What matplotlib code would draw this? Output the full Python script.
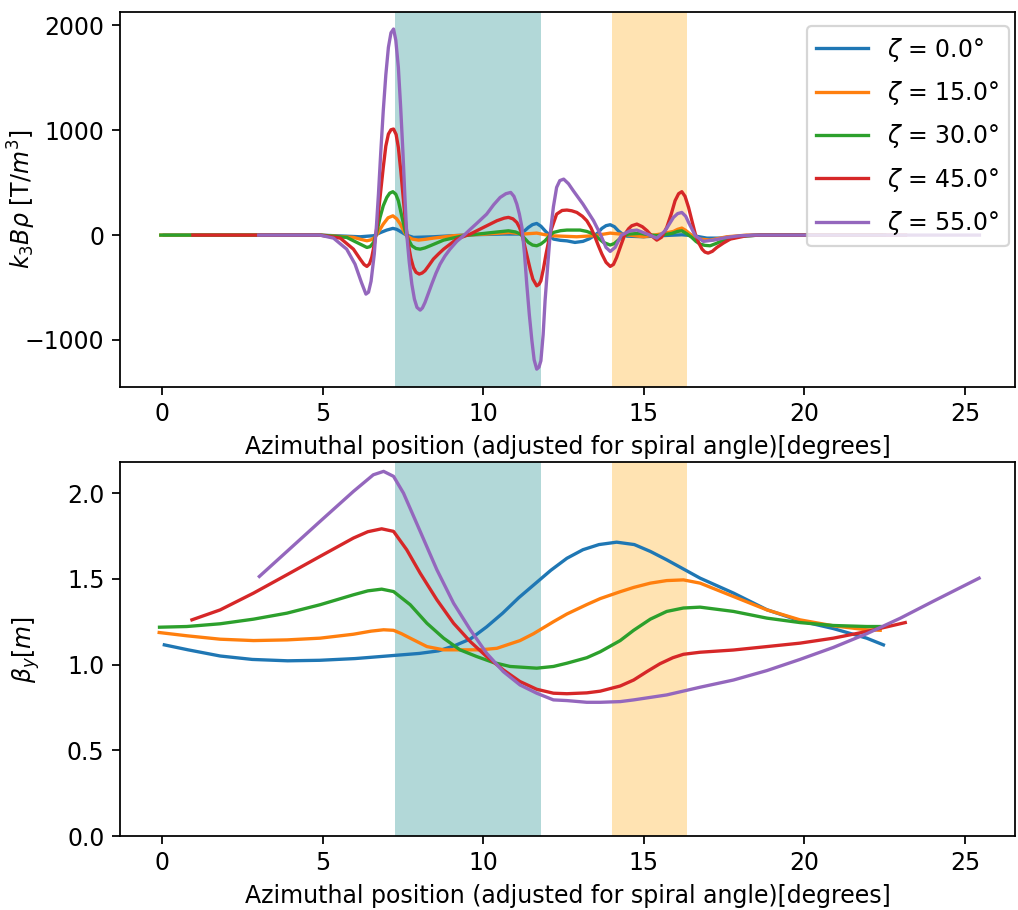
import numpy as np
import matplotlib.pyplot as plt
from matplotlib.ticker import MultipleLocator

plt.rcParams['font.size'] = 10.7

zetas = [0.0, 15.0, 30.0, 45.0, 55.0]
colors = ['tab:blue', 'tab:orange', 'tab:green', 'tab:red', 'tab:purple']

# k3*B*rho along the azimuth [T/m^3], one x/y pair per spiral angle
k3_x_0 = [0.06, 4.9, 6.16, 6.58, 6.8, 6.99, 7.18, 7.3, 7.41, 7.6, 7.82, 8.44, 9.59, 10.62, 11.15, 11.28,
          11.4, 11.53, 11.66, 11.79, 11.92, 12.05, 12.18, 12.4, 12.6, 12.85, 13.1, 13.3, 13.45, 13.56, 13.69,
          13.82, 13.95, 14.08, 14.2, 14.33, 14.47, 14.99, 15.51, 16.18, 16.54, 16.96, 17.38, 18.0, 18.62, 22.5]
k3_y_0 = [0, 0, -16, -6, 25, 48, 64, 55, 35, 0, -22, -16, 3, 10, 10, 40,
          73, 100, 111, 85, 41, 0, -38, -50, -55, -70, -60, -35, -5, 20, 64,
          90, 99, 80, 41, 10, -10, -16, -6, 3, -6, -29, -29, -10, 0, 0]

k3_x_1 = [-0.05, 4.9, 5.95, 6.2, 6.37, 6.5, 6.62, 6.75, 6.88, 7.03, 7.18, 7.3, 7.41, 7.51, 7.61, 7.78,
          7.98, 8.2, 8.44, 9.07, 10.1, 10.82, 11.25, 11.66, 12.08, 12.91, 13.43, 13.95, 14.47, 14.99,
          15.51, 15.92, 16.05, 16.18, 16.3, 16.44, 16.6, 16.75, 17.06, 17.58, 18.2, 22.4]
k3_y_1 = [0, 0, -22, -42, -54, -45, -22, 40, 105, 165, 184, 155, 105, 45, -6, -38,
          -48, -40, -29, -6, 10, 25, 10, 19, -6, -16, -6, 19, 3, -16,
          10, 35, 55, 67, 45, 10, -20, -38, -48, -16, 0, 0]

k3_x_2 = [-0.05, 4.9, 5.74, 6.16, 6.37, 6.47, 6.58, 6.68, 6.78, 6.88, 6.99, 7.08, 7.18, 7.27, 7.35, 7.45,
          7.56, 7.66, 7.77, 7.9, 8.03, 8.18, 8.34, 8.55, 8.76, 9.38, 10.1, 10.78, 11.0, 11.15, 11.28,
          11.4, 11.53, 11.66, 11.79, 11.92, 12.05, 12.18, 12.4, 12.6, 13.01, 13.22, 13.43, 13.6, 13.74,
          13.95, 14.08, 14.2, 14.35, 14.52, 14.88, 15.15, 15.4, 15.65, 15.87, 16.05, 16.18, 16.32, 16.49,
          16.62, 16.75, 16.9, 17.06, 17.25, 17.48, 18.0, 18.62, 22.4]
k3_y_2 = [0, 0, -22, -86, -118, -110, -70, 30, 169, 280, 359, 400, 414, 390, 328, 190,
          41, -40, -102, -128, -134, -122, -102, -75, -48, -6, 19, 41, 30, 10, -30,
          -70, -95, -102, -85, -54, -10, 25, 42, 48, 48, 35, 10, -35, -70,
          -95, -80, -48, -10, 10, 16, 5, -6, 5, 16, 35, 41, 15, -22,
          -60, -86, -98, -102, -80, -48, -10, 0, 0]

k3_x_3 = [0.95, 4.9, 5.54, 5.95, 6.16, 6.28, 6.37, 6.45, 6.52, 6.6, 6.68, 6.78, 6.88, 6.96, 7.04, 7.12,
          7.2, 7.28, 7.35, 7.43, 7.51, 7.58, 7.66, 7.74, 7.82, 7.9, 8.0, 8.09, 8.18, 8.3, 8.44, 8.6,
          8.76, 9.17, 9.59, 10.0, 10.42, 10.65, 10.78, 10.92, 11.04, 11.12, 11.2, 11.28, 11.37, 11.46,
          11.54, 11.66, 11.73, 11.79, 11.87, 11.95, 12.03, 12.1, 12.2, 12.28, 12.45, 12.6, 12.75, 12.91,
          13.08, 13.22, 13.35, 13.48, 13.58, 13.69, 13.82, 13.95, 14.05, 14.15, 14.28, 14.41, 14.52,
          14.62, 14.78, 14.95, 15.1, 15.25, 15.4, 15.55, 15.71, 15.85, 15.97, 16.08, 16.18, 16.28,
          16.39, 16.5, 16.6, 16.7, 16.81, 16.9, 17.0, 17.13, 17.27, 17.48, 17.69, 18.2, 18.62, 23.15]
k3_y_3 = [0, 0, -29, -134, -229, -280, -299, -275, -213, -90, 73, 360, 646, 850, 964, 1005,
          1012, 960, 837, 600, 328, 100, -86, -220, -309, -355, -372, -362, -340, -290, -229, -180,
          -134, -38, 10, 73, 137, 162, 169, 155, 121, 75, 10, -95, -213, -330,
          -420, -484, -470, -436, -320, -181, -60, 41, 130, 200, 235, 239, 232, 216,
          180, 137, 70, -22, -100, -181, -260, -299, -280, -213, -100, 10, 60,
          89, 105, 80, 41, -10, -48, -20, 73, 200, 328, 395, 414, 370,
          264, 130, 10, -70, -134, -162, -172, -155, -118, -75, -38, -6, 0, 0]

k3_x_4 = [3.0, 4.9, 5.33, 5.74, 6.0, 6.2, 6.34, 6.42, 6.5, 6.6, 6.67, 6.73, 6.8, 6.88, 6.96, 7.04,
          7.12, 7.2, 7.27, 7.35, 7.42, 7.49, 7.55, 7.61, 7.69, 7.77, 7.85, 7.93, 8.03, 8.1, 8.18,
          8.28, 8.39, 8.52, 8.65, 8.8, 8.96, 9.17, 9.38, 9.59, 9.79, 10.1, 10.32, 10.52, 10.7, 10.85,
          10.95, 11.04, 11.12, 11.2, 11.28, 11.35, 11.43, 11.51, 11.58, 11.66, 11.73, 11.79, 11.86,
          11.92, 12.0, 12.08, 12.18, 12.28, 12.38, 12.5, 12.65, 12.8, 13.1, 13.43, 13.64, 13.82,
          13.95, 14.1, 14.3, 14.57, 14.78, 15.1, 15.4, 15.66, 15.92, 16.05, 16.18, 16.3, 16.39,
          16.6, 16.85, 17.17, 17.58, 18.0, 18.4, 25.45]
k3_y_4 = [0, 0, -29, -134, -277, -452, -563, -545, -440, -181, 100, 391, 780, 1187, 1530, 1791,
          1930, 1966, 1860, 1600, 1230, 805, 390, 10, -260, -468, -610, -690, -716, -695, -643,
          -560, -468, -365, -277, -200, -134, -60, -6, 55, 111, 200, 290, 359, 395, 407,
          370, 296, 200, 73, -180, -468, -760, -1008, -1190, -1279, -1260, -1199, -950,
          -627, -300, 10, 270, 455, 520, 534, 490, 423, 296, 137, 10, -118,
          -156, -118, 0, 41, 48, 10, -29, 41, 169, 205, 216, 180, 121,
          -6, -60, -48, -22, -6, 0, 0]

# vertical beta function [m]
beta_x_0 = [0.06, 0.8, 1.8, 2.8, 3.9, 4.9, 6.0, 7.0, 8.0, 8.6, 9.1, 9.6, 10.1, 10.6, 11.1, 11.6, 12.1,
            12.6, 13.1, 13.6, 14.15, 14.7, 15.2, 15.71, 16.75, 17.79, 18.83, 19.86, 20.9, 21.94, 22.46]
beta_y_0 = [1.115, 1.086, 1.05, 1.03, 1.022, 1.025, 1.035, 1.05, 1.065, 1.08, 1.11, 1.15, 1.22, 1.30,
            1.39, 1.47, 1.55, 1.62, 1.67, 1.70, 1.714, 1.70, 1.66, 1.611, 1.504, 1.417, 1.32, 1.255,
            1.21, 1.154, 1.115]

beta_x_1 = [-0.1, 0.76, 1.8, 2.84, 3.88, 4.91, 5.95, 6.5, 6.89, 7.2, 7.45, 7.72, 8.24, 8.76, 9.27, 9.9,
            10.42, 11.14, 11.56, 12.18, 12.6, 13.22, 13.64, 14.26, 14.68, 15.2, 15.71, 16.23, 16.75,
            17.79, 18.83, 19.86, 20.9, 21.94, 22.36]
beta_y_1 = [1.187, 1.168, 1.148, 1.14, 1.144, 1.154, 1.177, 1.195, 1.203, 1.2, 1.18, 1.154, 1.105,
            1.086, 1.086, 1.086, 1.095, 1.14, 1.18, 1.25, 1.295, 1.35, 1.385, 1.425, 1.45, 1.475,
            1.49, 1.494, 1.475, 1.397, 1.319, 1.261, 1.226, 1.203, 1.2]

beta_x_2 = [-0.09, 0.76, 1.8, 2.84, 3.88, 4.91, 5.95, 6.4, 6.83, 7.2, 7.72, 8.24, 8.76, 9.27, 9.79,
            10.31, 10.83, 11.66, 12.18, 12.6, 13.22, 13.64, 14.26, 14.68, 15.2, 15.71, 16.23, 16.75,
            17.79, 18.83, 19.86, 20.9, 21.94, 22.36]
beta_y_2 = [1.218, 1.222, 1.238, 1.265, 1.3, 1.349, 1.407, 1.43, 1.44, 1.426, 1.349, 1.241, 1.154,
            1.086, 1.047, 1.012, 0.989, 0.979, 0.989, 1.008, 1.04, 1.075, 1.14, 1.2, 1.265, 1.31,
            1.33, 1.335, 1.31, 1.271, 1.245, 1.228, 1.222, 1.222]

beta_x_3 = [0.92, 1.8, 2.84, 3.88, 4.91, 5.95, 6.4, 6.83, 7.2, 7.61, 8.03, 8.55, 9.07, 9.59, 10.1,
            10.62, 11.14, 11.66, 12.18, 12.6, 13.22, 13.64, 14.26, 14.68, 15.1, 15.5, 15.9, 16.23,
            16.75, 17.79, 18.83, 19.86, 20.9, 21.94, 23.14]
beta_y_3 = [1.261, 1.319, 1.417, 1.524, 1.631, 1.738, 1.775, 1.792, 1.777, 1.67, 1.533, 1.378,
            1.241, 1.134, 1.047, 0.969, 0.901, 0.856, 0.833, 0.83, 0.835, 0.845, 0.875, 0.91, 0.96,
            1.005, 1.04, 1.06, 1.072, 1.085, 1.105, 1.125, 1.154, 1.193, 1.245]

beta_x_4 = [3.02, 3.88, 4.91, 5.95, 6.57, 6.89, 7.2, 7.51, 8.03, 8.55, 9.07, 9.59, 10.1, 10.62, 11.14,
            11.66, 12.18, 12.6, 13.22, 13.64, 14.26, 14.68, 15.71, 16.75, 17.79, 18.83, 19.86, 20.9,
            21.94, 22.98, 24.02, 25.44]
beta_y_4 = [1.514, 1.66, 1.835, 2.01, 2.107, 2.127, 2.098, 2.0, 1.777, 1.553, 1.358, 1.203, 1.066,
            0.959, 0.881, 0.833, 0.794, 0.79, 0.78, 0.78, 0.784, 0.794, 0.823, 0.868, 0.91, 0.965,
            1.03, 1.10, 1.18, 1.27, 1.37, 1.504]

k3_x = [k3_x_0, k3_x_1, k3_x_2, k3_x_3, k3_x_4]
k3_y = [k3_y_0, k3_y_1, k3_y_2, k3_y_3, k3_y_4]
beta_x = [beta_x_0, beta_x_1, beta_x_2, beta_x_3, beta_x_4]
beta_y = [beta_y_0, beta_y_1, beta_y_2, beta_y_3, beta_y_4]

# magnet regions
spans = [(7.25, 11.78, 'teal'), (14.0, 16.34, 'orange')]
xlabel = 'Azimuthal position (adjusted for spiral angle)[degrees]'

fig = plt.figure(figsize=(1018/159, 910/159), dpi=159)
ax1 = fig.add_axes([0.1179, 0.575, 0.8792, 0.4114])
ax2 = fig.add_axes([0.1179, 0.0813, 0.8792, 0.4107])

for i in range(len(zetas)):
    ax1.plot(k3_x[i], k3_y[i], color=colors[i], label=f'$\\zeta$ = {zetas[i]}°')
    ax2.plot(beta_x[i], beta_y[i], color=colors[i])

for ax in (ax1, ax2):
    for lo, hi, c in spans:
        ax.axvspan(lo, hi, color=c, alpha=0.3, lw=0)
    ax.set_xlim(-1.32, 26.56)
    ax.set_xlabel(xlabel)

ax1.set_ylim(-1447, 2125)
ax1.yaxis.set_major_locator(MultipleLocator(1000))
ax1.set_ylabel(r'$k_3B\rho$ [T/$m^3$]')
ax1.yaxis.set_label_coords(-0.092, 0.5)
ax1.legend(loc='upper right', bbox_to_anchor=(1.006, 0.995), labelspacing=0.65, handlelength=2.2)

ax2.set_ylim(0, 2.18)
ax2.set_ylabel(r'$\beta_y [m]$')
ax2.yaxis.set_label_coords(-0.087, 0.5)

plt.savefig('out.png')
